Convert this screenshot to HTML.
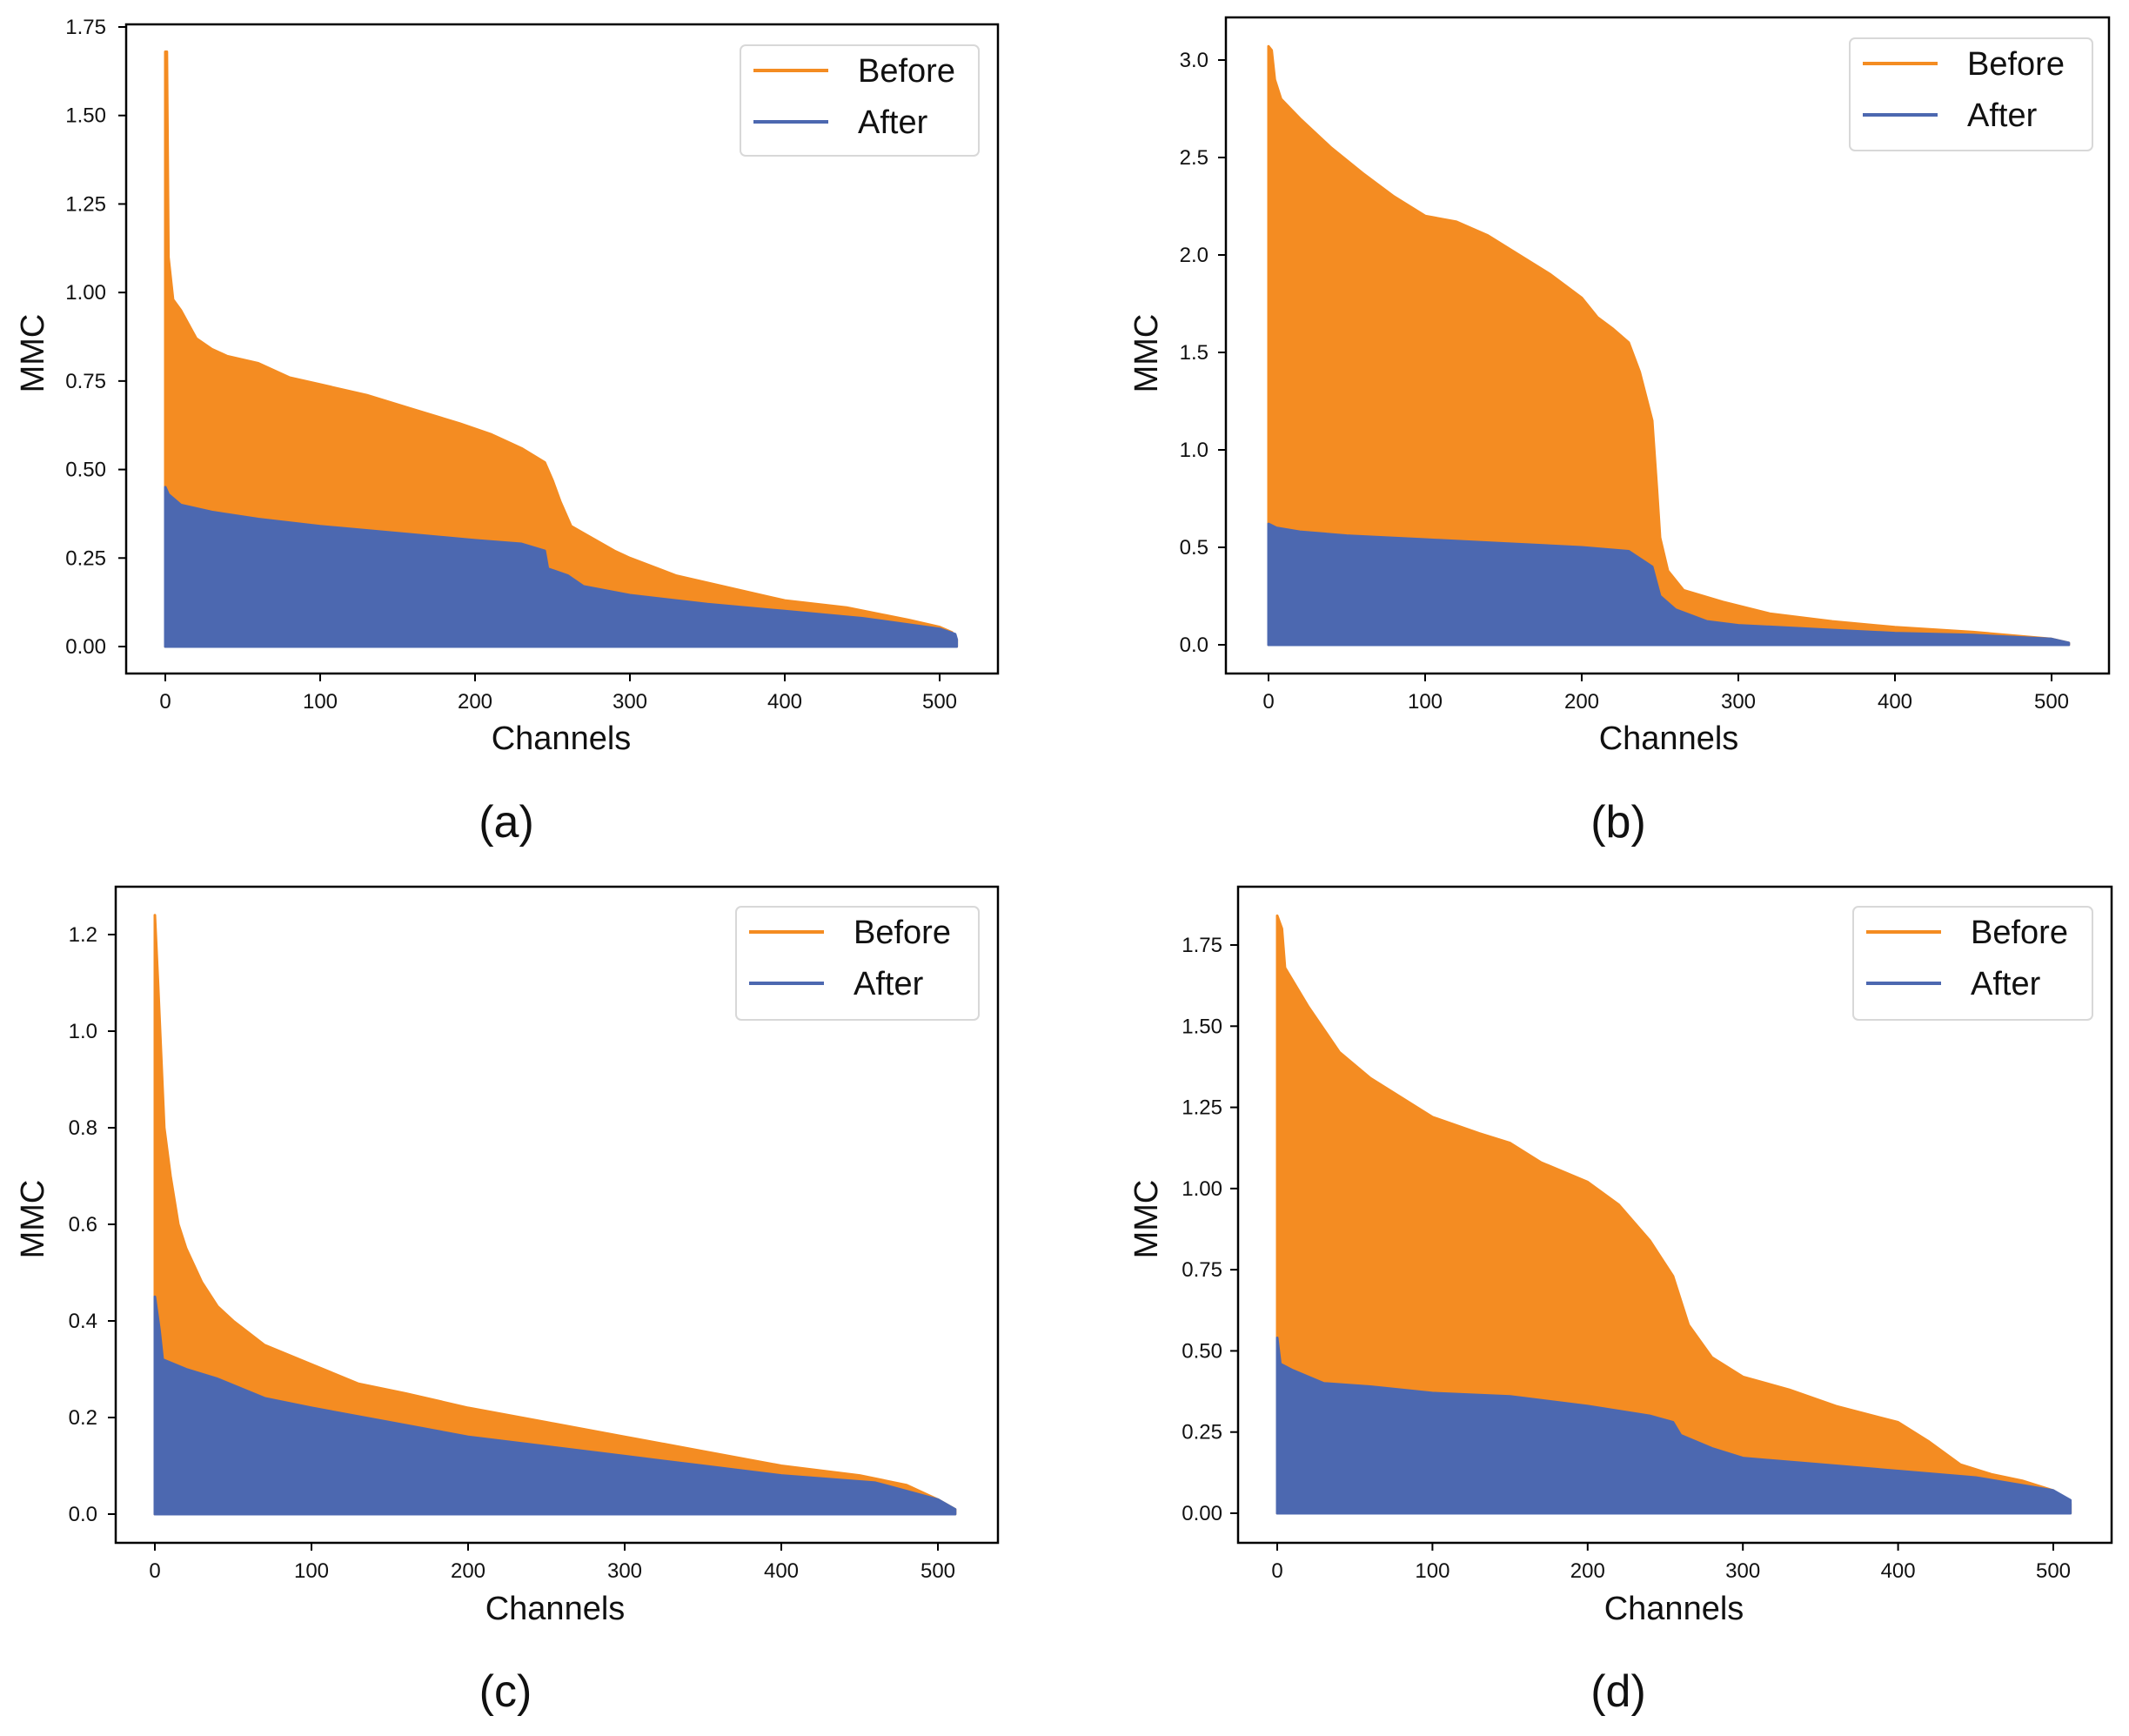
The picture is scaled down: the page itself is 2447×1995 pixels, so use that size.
<!DOCTYPE html>
<html><head><meta charset="utf-8"><style>
html,body{margin:0;padding:0;background:#fff;}
svg{display:block;font-family:"Liberation Sans","DejaVu Sans",sans-serif;}
</style></head><body>
<svg id="fig" width="2447" height="1995" viewBox="0 0 2447 1995" xmlns="http://www.w3.org/2000/svg"></svg>
<script>
// ---- data (channel index, MMC value) ----
const aBeforeX=[0,1,2,5,10,20,30,40,60,80,100,130,160,190,210,230,245,250,255,262,270,290,300,330,360,400,440,480,500,508,511];
const aBeforeY=[1.68,1.68,1.1,0.98,0.95,0.87,0.84,0.82,0.80,0.76,0.74,0.71,0.67,0.63,0.60,0.56,0.52,0.47,0.41,0.34,0.32,0.27,0.25,0.20,0.17,0.13,0.11,0.075,0.055,0.04,0.02];
const aAfterX=[0,2,10,30,60,100,150,200,230,245,247,260,270,300,350,400,450,500,510,511];
const aAfterY=[0.45,0.43,0.40,0.38,0.36,0.34,0.32,0.30,0.29,0.27,0.22,0.20,0.17,0.145,0.12,0.10,0.08,0.05,0.035,0.02];
const bBeforeX=[0,2,4,8,20,40,60,80,100,120,140,160,180,200,210,220,230,237,245,248,250,255,265,290,320,360,400,450,500,511];
const bBeforeY=[3.07,3.05,2.9,2.80,2.70,2.55,2.42,2.30,2.20,2.17,2.10,2.00,1.90,1.78,1.68,1.62,1.55,1.40,1.15,0.80,0.55,0.38,0.28,0.22,0.16,0.12,0.09,0.065,0.03,0.01];
const bAfterX=[0,5,20,50,100,150,200,230,245,250,260,280,300,350,400,450,500,511];
const bAfterY=[0.62,0.60,0.58,0.56,0.54,0.52,0.50,0.48,0.40,0.25,0.18,0.12,0.10,0.08,0.06,0.05,0.03,0.01];
const cBeforeX=[0,2,4,6,10,15,20,30,40,50,70,100,130,160,200,250,300,350,400,450,480,500,511];
const cBeforeY=[1.24,1.10,0.95,0.80,0.70,0.60,0.55,0.48,0.43,0.40,0.35,0.31,0.27,0.25,0.22,0.19,0.16,0.13,0.10,0.08,0.06,0.03,0.01];
const cAfterX=[0,3,5,20,40,70,100,150,200,250,300,350,400,460,500,511];
const cAfterY=[0.45,0.38,0.32,0.30,0.28,0.24,0.22,0.19,0.16,0.14,0.12,0.10,0.08,0.065,0.03,0.01];
const dBeforeX=[0,3,5,10,20,40,60,80,100,130,150,170,200,220,240,255,265,280,300,330,360,400,420,440,460,480,500,511];
const dBeforeY=[1.84,1.80,1.68,1.64,1.56,1.42,1.34,1.28,1.22,1.17,1.14,1.08,1.02,0.95,0.84,0.73,0.58,0.48,0.42,0.38,0.33,0.28,0.22,0.15,0.12,0.10,0.07,0.03];
const dAfterX=[0,2,10,30,60,100,150,200,240,255,260,280,300,350,400,450,500,511];
const dAfterY=[0.54,0.46,0.44,0.40,0.39,0.37,0.36,0.33,0.30,0.28,0.24,0.20,0.17,0.15,0.13,0.11,0.07,0.04];
const xTicks=[0,100,200,300,400,500];
const aYTicks=[0,0.25,0.5,0.75,1.0,1.25,1.5,1.75];
const bYTicks=[0,0.5,1.0,1.5,2.0,2.5,3.0];
const cYTicks=[0,0.2,0.4,0.6,0.8,1.0,1.2];
const dYTicks=[0,0.25,0.5,0.75,1.0,1.25,1.5,1.75];
const seriesNames=["Before","After"];

const NS="http://www.w3.org/2000/svg";
const svg=document.getElementById('fig');
function mk(tag,attrs,parent){const e=document.createElementNS(NS,tag);for(const k in attrs)e.setAttribute(k,attrs[k]);(parent||svg).appendChild(e);return e;}

const panels=[
 {id:'a',box:[145,28,1147,774],y0:743,y1:31,yv1:1.75,x0:190,x500:1080,dec:2,yt:aYTicks,bx:aBeforeX,by:aBeforeY,ax:aAfterX,ay:aAfterY,leg:[851,52,1125,179],lab:122,mmc:[37,406],ch:[645,848],cap:[582,944]},
 {id:'b',box:[1409,20,2424,774],y0:741,y1:69,yv1:3.0,x0:1458,x500:2358,dec:1,yt:bYTicks,bx:bBeforeX,by:bBeforeY,ax:bAfterX,ay:bAfterY,leg:[2126,44,2405,173],lab:1389,mmc:[1317,406],ch:[1918,848],cap:[1860,944]},
 {id:'c',box:[133,1019,1147,1773],y0:1740,y1:1074,yv1:1.2,x0:178,x500:1078,dec:1,yt:cYTicks,bx:cBeforeX,by:cBeforeY,ax:cAfterX,ay:cAfterY,leg:[846,1042,1125,1172],lab:112,mmc:[37,1401],ch:[638,1848],cap:[581,1943]},
 {id:'d',box:[1423,1019,2427,1773],y0:1739,y1:1086,yv1:1.75,x0:1468,x500:2360,dec:2,yt:dYTicks,bx:dBeforeX,by:dBeforeY,ax:dAfterX,ay:dAfterY,leg:[2130,1042,2405,1172],lab:1405,mmc:[1317,1401],ch:[1924,1848],cap:[1860,1943]}
];
const ORANGE='#f48c22',BLUE='#4c68b0';
panels.forEach(p=>{
 const g=mk('g',{});
 
 
 const X=v=>p.x0+(p.x500-p.x0)*v/500;
 const Y=v=>p.y0+(p.y1-p.y0)*v/p.yv1;
 function area(xs,ys,col,name){
  let d='M'+X(xs[0])+','+Y(0);
  for(let i=0;i<xs.length;i++)d+=' L'+X(xs[i]).toFixed(1)+','+Y(ys[i]).toFixed(1);
  d+=' L'+X(xs[xs.length-1])+','+Y(0)+' Z';
  const a=mk('path',{d:d,fill:col,stroke:col,'stroke-width':3,'stroke-linejoin':'round'},g);
  
  
 }
 area(p.bx,p.by,ORANGE,'before-area');
 area(p.ax,p.ay,BLUE,'after-area');
 const [l,t,r,b]=p.box;
 const fr=mk('rect',{x:l,y:t,width:r-l,height:b-t,fill:'none',stroke:'#000','stroke-width':2.5},g);
 
 
 xTicks.forEach(v=>{
  mk('line',{x1:X(v),x2:X(v),y1:b,y2:b+9,stroke:'#000','stroke-width':2},g);
  const t1=mk('text',{x:X(v),y:b+40,'font-size':24,'text-anchor':'middle',fill:'#111'},g);
  t1.textContent=v;
  
  
 });
 p.yt.forEach(v=>{
  mk('line',{x1:l,x2:l-9,y1:Y(v),y2:Y(v),stroke:'#000','stroke-width':2},g);
  const t2=mk('text',{x:p.lab,y:Y(v)+8,'font-size':24,'text-anchor':'end',fill:'#111'},g);
  t2.textContent=v.toFixed(p.dec);
  
  
 });
 const yt=mk('text',{x:p.mmc[0],y:p.mmc[1],'font-size':38,'text-anchor':'middle',transform:'rotate(-90 '+p.mmc[0]+' '+p.mmc[1]+')',dy:13,fill:'#111'},g);
 yt.textContent='MMC';
 
 
 const xt=mk('text',{x:p.ch[0],y:p.ch[1]+13,'font-size':38,'text-anchor':'middle',fill:'#111'},g);
 xt.textContent='Channels';
 
 
 const cp=mk('text',{x:p.cap[0],y:p.cap[1]+18,'font-size':52,'text-anchor':'middle',fill:'#111'},g);
 cp.textContent='('+p.id+')';
 
 
 const [ll,lt,lr,lb]=p.leg;
 const lg=mk('g',{},g);
 
 
 mk('rect',{x:ll,y:lt,width:lr-ll,height:lb-lt,rx:6,fill:'#fff',stroke:'#d8d8d8','stroke-width':2},lg);
 [ORANGE,BLUE].forEach((c,i)=>{
  const yy=lt+29+i*59;
  const ln=mk('line',{x1:ll+15,x2:ll+101,y1:yy,y2:yy,stroke:c,'stroke-width':4},lg);
  
  
  const tx=mk('text',{x:ll+135,y:yy+13,'font-size':38,fill:'#111'},lg);
  tx.textContent=seriesNames[i];
  
  
 });
});
</script>
</body></html>
